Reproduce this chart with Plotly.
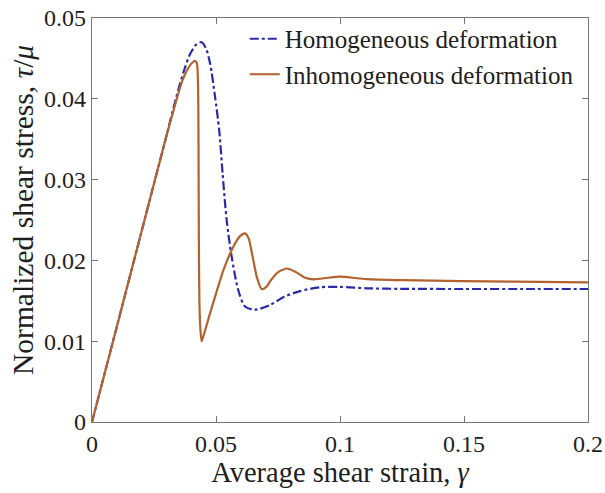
import plotly.graph_objects as go

# Homogeneous deformation (dash-dot blue)
hom_gamma = [0, 0.01, 0.02, 0.03, 0.034, 0.037, 0.0395, 0.042, 0.0442, 0.046, 0.0476,
             0.0496, 0.0513, 0.0527, 0.0543, 0.0563, 0.059, 0.0617, 0.0657, 0.0718,
             0.0775, 0.0839, 0.0919, 0.1, 0.1108, 0.125, 0.15, 0.175, 0.2]
hom_tau = [0, 0.0118, 0.0236, 0.0354, 0.0402, 0.0434, 0.0455, 0.0467, 0.0470, 0.0462, 0.0444,
           0.0403, 0.0361, 0.0306, 0.0250, 0.0205, 0.0163, 0.0143, 0.0139, 0.01448,
           0.0155, 0.0162, 0.01667, 0.01672, 0.01655, 0.01648, 0.01646, 0.01646, 0.01646]

# Inhomogeneous deformation (solid orange-brown)
inh_gamma = [0, 0.01, 0.02, 0.03, 0.034, 0.0365, 0.039, 0.0405, 0.0415, 0.0423, 0.0427,
             0.0429, 0.0430, 0.0431, 0.0433, 0.0437, 0.0442, 0.0448, 0.0476, 0.053, 0.057,
             0.0597, 0.0617, 0.0632, 0.0648, 0.0665, 0.0684, 0.0702, 0.0720, 0.0748, 0.0785,
             0.082, 0.086, 0.0895, 0.095, 0.1, 0.1108, 0.125, 0.1376, 0.16, 0.18, 0.2]
inh_tau = [0, 0.0118, 0.0236, 0.0354, 0.0398, 0.0423, 0.0439, 0.0445, 0.0447, 0.0444, 0.0425,
           0.038, 0.030, 0.022, 0.015, 0.0115, 0.0100, 0.0105, 0.01345, 0.0188, 0.0217,
           0.0230, 0.02335, 0.0227, 0.0204, 0.0179, 0.01645, 0.0167, 0.0175, 0.0185, 0.0190,
           0.0186, 0.01785, 0.01766, 0.01785, 0.0180, 0.01768, 0.01755, 0.01749, 0.0174, 0.01735, 0.01729]

x_tickvals = [0, 0.05, 0.1, 0.15, 0.2]
x_ticktext = ["0", "0.05", "0.1", "0.15", "0.2"]
y_tickvals = [0, 0.01, 0.02, 0.03, 0.04, 0.05]
y_ticktext = ["0", "0.01", "0.02", "0.03", "0.04", "0.05"]

FONT = "Liberation Serif"
TXT = "#1e1e1e"

fig = go.Figure()
fig.add_trace(go.Scatter(
    x=hom_gamma, y=hom_tau, mode="lines", name="Homogeneous deformation",
    line=dict(color="#2a2aa8", width=2.2, dash="dashdot", shape="spline", smoothing=0.8),
))
fig.add_trace(go.Scatter(
    x=inh_gamma, y=inh_tau, mode="lines", name="Inhomogeneous deformation",
    line=dict(color="#b2622f", width=2.2, shape="spline", smoothing=0.6),
))

axis_common = dict(
    showline=True, linecolor="#777777", linewidth=1.3, mirror="ticks",
    ticks="inside", ticklen=6, tickcolor="#777777", tickwidth=1.2,
    showgrid=False, zeroline=False, automargin=False,
    tickfont=dict(family=FONT, size=24, color=TXT),
)

fig.update_layout(
    width=605, height=493,
    margin=dict(l=92, r=17, t=18, b=71),
    paper_bgcolor="white", plot_bgcolor="white",
    font=dict(family=FONT, color=TXT),
    showlegend=True,
    legend=dict(
        x=0.308, y=1.005, xanchor="left", yanchor="top",
        bgcolor="rgba(0,0,0,0)", borderwidth=0,
        font=dict(family=FONT, size=25, color=TXT),
        itemwidth=30, tracegroupgap=0,
    ),
    xaxis=dict(
        range=[0, 0.2], tickvals=x_tickvals, ticktext=x_ticktext,
        title=dict(text="Average shear strain, <i>γ</i>", font=dict(family=FONT, size=28.5, color=TXT), standoff=2),
        **axis_common,
    ),
    yaxis=dict(
        range=[0, 0.05], tickvals=y_tickvals, ticktext=y_ticktext,
        **axis_common,
    ),
    annotations=[dict(
        text="Normalized shear stress, <i>τ</i>/<i>μ</i>",
        xref="paper", yref="paper", x=-0.139, y=0.525,
        xanchor="center", yanchor="middle", textangle=-90, showarrow=False,
        font=dict(family=FONT, size=29.5, color=TXT),
    )],
)

fig.write_html("out.html")
